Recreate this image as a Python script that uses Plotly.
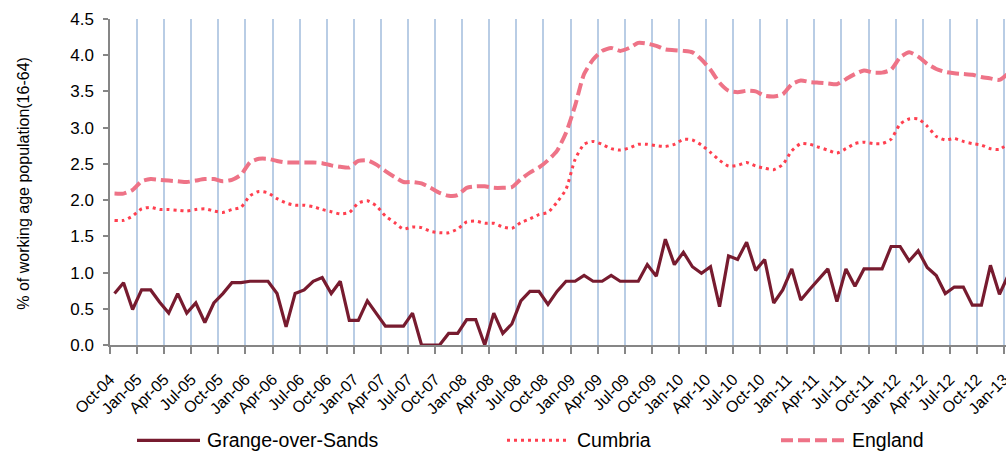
import plotly.graph_objects as go

# monthly values, Oct-04 .. Jan-13
grange = [0.71, 0.86, 0.49, 0.76, 0.76, 0.59, 0.44, 0.71, 0.44, 0.58,
          0.31, 0.58, 0.71, 0.86, 0.86, 0.88, 0.88, 0.88, 0.71, 0.25,
          0.71, 0.76, 0.88, 0.93, 0.71, 0.88, 0.34, 0.34, 0.61, 0.44,
          0.26, 0.26, 0.26, 0.44, 0.0, 0.0, 0.0, 0.16, 0.16, 0.35,
          0.35, 0.0, 0.44, 0.16, 0.29, 0.61, 0.74, 0.74, 0.56, 0.74,
          0.88, 0.88, 0.96, 0.88, 0.88, 0.96, 0.88, 0.88, 0.88, 1.11,
          0.95, 1.46, 1.11, 1.28, 1.08, 0.99, 1.08, 0.53, 1.23, 1.18,
          1.42, 1.03, 1.18, 0.58, 0.76, 1.05, 0.62, 0.77, 0.91, 1.05,
          0.60, 1.05, 0.81, 1.05, 1.05, 1.05, 1.36, 1.36, 1.16, 1.30,
          1.07, 0.96, 0.71, 0.80, 0.80, 0.55, 0.55, 1.10, 0.70, 0.97]

cumbria = [1.72, 1.72, 1.78, 1.88, 1.90, 1.87, 1.87, 1.86, 1.85, 1.87,
           1.88, 1.85, 1.83, 1.87, 1.90, 2.06, 2.12, 2.10, 2.02, 1.96,
           1.93, 1.93, 1.91, 1.87, 1.84, 1.81, 1.83, 1.96, 1.99, 1.92,
           1.78, 1.69, 1.60, 1.63, 1.62, 1.57, 1.55, 1.55, 1.60, 1.70,
           1.71, 1.68, 1.68, 1.63, 1.61, 1.69, 1.74, 1.80, 1.83, 1.97,
           2.15, 2.56, 2.77, 2.81, 2.77, 2.71, 2.69, 2.72, 2.77, 2.77,
           2.75, 2.74, 2.77, 2.84, 2.83, 2.76, 2.66, 2.55, 2.47, 2.48,
           2.52, 2.47, 2.44, 2.42, 2.49, 2.68, 2.78, 2.77, 2.73, 2.69,
           2.65, 2.71, 2.78, 2.80, 2.78, 2.78, 2.84, 3.05, 3.12, 3.12,
           3.02, 2.88, 2.83, 2.85, 2.81, 2.78, 2.76, 2.71, 2.70, 2.79]

england = [2.09, 2.09, 2.14, 2.26, 2.29, 2.28, 2.27, 2.26, 2.25, 2.27,
           2.29, 2.29, 2.26, 2.28, 2.35, 2.52, 2.57, 2.57, 2.54, 2.52,
           2.52, 2.52, 2.52, 2.51, 2.48, 2.46, 2.45, 2.54, 2.55, 2.49,
           2.40, 2.32, 2.25, 2.25, 2.23, 2.17, 2.10, 2.06, 2.07, 2.17,
           2.19, 2.19, 2.17, 2.17, 2.18, 2.29, 2.38, 2.45, 2.55, 2.68,
           2.93, 3.30, 3.74, 3.94, 4.06, 4.10, 4.06, 4.10, 4.17, 4.16,
           4.13, 4.08, 4.07, 4.06, 4.04, 3.94, 3.80, 3.62, 3.51, 3.49,
           3.51, 3.50, 3.44, 3.43, 3.46, 3.60, 3.65, 3.63, 3.62, 3.61,
           3.60, 3.67, 3.74, 3.79, 3.76, 3.76, 3.80, 3.97, 4.04, 3.98,
           3.88, 3.81, 3.77, 3.75, 3.74, 3.73, 3.70, 3.68, 3.66, 3.75]

tick_labels = ["Oct-04", "Jan-05", "Apr-05", "Jul-05", "Oct-05", "Jan-06", "Apr-06",
               "Jul-06", "Oct-06", "Jan-07", "Apr-07", "Jul-07", "Oct-07", "Jan-08",
               "Apr-08", "Jul-08", "Oct-08", "Jan-09", "Apr-09", "Jul-09", "Oct-09",
               "Jan-10", "Apr-10", "Jul-10", "Oct-10", "Jan-11", "Apr-11", "Jul-11",
               "Oct-11", "Jan-12", "Apr-12", "Jul-12", "Oct-12", "Jan-13"]

# each month sits in the middle of its category slot
x = [i + 0.5 for i in range(len(grange))]
tick_pos = [3 * k for k in range(len(tick_labels))]

col_grange = "#771B2F"
col_cumbria = "#FF3F4F"
col_england = "#EE7387"
font = "Liberation Sans, Arial, sans-serif"

fig = go.Figure()
fig.add_trace(go.Scatter(x=x, y=grange, mode="lines", name="Grange-over-Sands",
                         line=dict(color=col_grange, width=3.2)))
fig.add_trace(go.Scatter(x=x, y=cumbria, mode="lines", name="Cumbria",
                         line=dict(color=col_cumbria, width=3, dash="3px,4px",
                                   shape="spline", smoothing=0.6)))
fig.add_trace(go.Scatter(x=x, y=england, mode="lines", name="England",
                         line=dict(color=col_england, width=4, dash="12px,5px",
                                   shape="spline", smoothing=0.6)))

# plot area in page pixels (body margin is removed below)
W, H = 1006, 452
L, R, T, B = 110, 1006, 19, 345.5


def px_x(p):
    return (p - L) / (R - L)


def px_y(p):
    return (B - p) / (B - T)


# hand-drawn legend so the samples are as long as in the original
leg_y = 441
legend_items = [("Grange-over-Sands", col_grange, 3.2, "solid", 137, 200),
                ("Cumbria", col_cumbria, 3, "3px,4px", 507, 570),
                ("England", col_england, 4, "12px,5px", 781, 845)]
for name, c, w, d, x0, x1 in legend_items:
    fig.add_shape(type="line", xref="paper", yref="paper",
                  x0=px_x(x0), x1=px_x(x1), y0=px_y(leg_y), y1=px_y(leg_y),
                  line=dict(color=c, width=w, dash=d))
    fig.add_annotation(text=name, xref="paper", yref="paper",
                       x=px_x(x1 + 5), y=px_y(leg_y), xanchor="left", yanchor="middle",
                       showarrow=False, font=dict(size=19.5, color="#000000", family=font))

# y axis title
fig.add_annotation(text="% of working age population(16-64)", xref="paper", yref="paper",
                   x=px_x(24), y=px_y(184), textangle=-90, showarrow=False,
                   xanchor="center", yanchor="middle",
                   font=dict(size=16, color="#000000", family=font))

fig.update_layout(
    width=W, height=H,
    margin=dict(l=L, r=W - R, t=T, b=H - B),
    plot_bgcolor="white", paper_bgcolor="white",
    showlegend=False,
    font=dict(family=font, size=15, color="#000000"),
    xaxis=dict(range=[0, (R - L) / 9.03], tickmode="array", tickvals=tick_pos,
               ticktext=tick_labels, tickangle=-45, showgrid=True,
               gridcolor="#B9CDE5", gridwidth=1.5, zeroline=False,
               showline=True, linecolor="#868686", linewidth=1.5,
               ticks="outside", ticklen=7, tickcolor="#868686", tickwidth=1.5,
               tickfont=dict(size=16), ticklabelstandoff=10, automargin=False,
               ticklabeloverflow="allow"),
    yaxis=dict(range=[0, 4.5], dtick=0.5, tickformat=".1f", showgrid=False,
               zeroline=False, showline=True, linecolor="#868686", linewidth=1.5,
               ticks="outside", ticklen=5, tickcolor="#868686", tickwidth=1.5,
               tickfont=dict(size=17), ticklabelstandoff=6, automargin=False),
)

fig.write_html("out.html", config={"displayModeBar": False},
               post_script="document.body.style.margin='0';"
                           "document.body.style.overflow='hidden';")
